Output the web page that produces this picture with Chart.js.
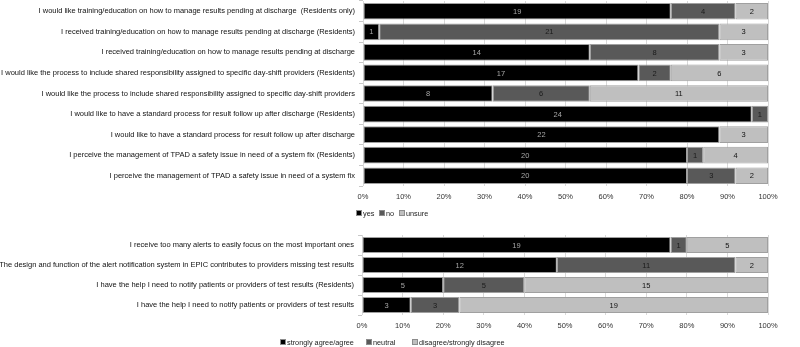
<!DOCTYPE html>
<html>
<head>
<meta charset="utf-8">
<script src="https://cdn.jsdelivr.net/npm/chart.js@4/dist/chart.umd.min.js"></script>
<style>
  html, body { margin: 0; padding: 0; background: #fff; }
  #wrap { position: relative; width: 800px; height: 347px; overflow: hidden; }
  #c1wrap { position: absolute; left: 0; top: 0; width: 800px; height: 225px; }
  #c2wrap { position: absolute; left: 0; top: 230px; width: 800px; height: 117px; }
</style>
</head>
<body>
<div id="wrap">
  <div id="c1wrap"><canvas id="c1"></canvas></div>
  <div id="c2wrap"><canvas id="c2"></canvas></div>
</div>
<script>
// ---------- DATA ----------
const topCategories = [
  "I would like training/education on how to manage results pending at discharge  (Residents only)",
  "I received training/education on how to manage results pending at discharge (Residents)",
  "I received training/education on how to manage results pending at discharge",
  "I would like the process to include shared responsibility assigned to specific day-shift providers (Residents)",
  "I would like the process to include shared responsibility assigned to specific day-shift providers",
  "I would like to have a standard process for result follow up after discharge (Residents)",
  "I would like to have a standard process for result follow up after discharge",
  "I perceive the management of TPAD a safety issue in need of a system fix (Residents)",
  "I perceive the management of TPAD a safety issue in need of a system fix"
];
const topSeriesNames = ["yes", "no", "unsure"];
const topYes    = [19, 1, 14, 17, 8, 24, 22, 20, 20];
const topNo     = [4, 21, 8, 2, 6, 1, 0, 1, 3];
const topUnsure = [2, 3, 3, 6, 11, 0, 3, 4, 2];

const bottomCategories = [
  "I receive too many alerts to easily focus on the most important ones",
  "The design and function of the alert notification system in EPIC contributes to providers missing test results",
  "I have the help I need to notify patients or providers of test results (Residents)",
  "I have the help I need to notify patients or providers of test results"
];
const bottomSeriesNames = ["strongly agree/agree", "neutral", "disagree/strongly disagree"];
const bottomAgree    = [19, 12, 5, 3];
const bottomNeutral  = [1, 11, 5, 3];
const bottomDisagree = [5, 2, 15, 19];

const xTickLabels = ["0%","10%","20%","30%","40%","50%","60%","70%","80%","90%","100%"];

// ---------- STYLE ----------
const FONT = "'Liberation Sans', Arial, sans-serif";
const fills = ["#000000", "#595959", "#bfbfbf"];
const labelColors = ["#a6a6a6", "#1a1a1a", "#111111"];

function toPercent(seriesList) {
  const n = seriesList[0].length;
  const totals = [];
  for (let i = 0; i < n; i++) {
    let t = 0;
    seriesList.forEach(s => t += s[i]);
    totals.push(t);
  }
  return seriesList.map(s => s.map((v, i) => totals[i] ? v / totals[i] * 100 : 0));
}

const segLabels = {
  id: 'segLabels',
  afterDatasetsDraw(chart) {
    const ctx = chart.ctx;
    ctx.save();
    ctx.font = "7.5px " + FONT;
    ctx.textAlign = 'center';
    ctx.textBaseline = 'middle';
    chart.data.datasets.forEach((ds, di) => {
      const meta = chart.getDatasetMeta(di);
      meta.data.forEach((bar, i) => {
        const v = ds.counts[i];
        if (!v) return;
        const p = bar.getProps(['x', 'y', 'base'], true);
        ctx.fillStyle = labelColors[di];
        ctx.fillText(String(v), (p.x + p.base) / 2, p.y + 0.5);
      });
    });
    ctx.restore();
  }
};

// legend drawn in canvas below the x axis, positions given per chart
const customLegend = {
  id: 'customLegend',
  afterDraw(chart, args, opts) {
    const ctx = chart.ctx;
    ctx.save();
    ctx.font = "7.3px " + FONT;
    ctx.textBaseline = 'middle';
    ctx.textAlign = 'left';
    chart.data.datasets.forEach((ds, k) => {
      const x = opts.lefts[k];
      const y = opts.y;
      ctx.fillStyle = fills[k];
      ctx.fillRect(x, y - 3, 6, 6);
      ctx.strokeStyle = '#8c8c8c';
      ctx.lineWidth = 1;
      ctx.strokeRect(x + 0.5, y - 2.5, 5, 5);
      ctx.fillStyle = '#222';
      ctx.fillText(ds.label, x + 7, y + 0.5);
    });
    ctx.restore();
  }
};

function makeChart(id, categories, names, series, yWidth, padTop, padBottom, legendOpts) {
  const pct = toPercent(series);
  const datasets = names.map((nm, k) => ({
    label: nm,
    data: pct[k],
    counts: series[k],
    backgroundColor: fills[k],
    borderColor: "#a0a0a0",
    borderWidth: 1,
    borderSkipped: false,
    barPercentage: 0.9,
    categoryPercentage: 0.9
  }));
  return new Chart(document.getElementById(id), {
    type: 'bar',
    data: { labels: categories, datasets },
    plugins: [segLabels, customLegend],
    options: {
      indexAxis: 'y',
      responsive: true,
      maintainAspectRatio: false,
      animation: false,
      layout: { padding: { top: padTop, right: 32, left: 0, bottom: padBottom } },
      plugins: { legend: { display: false }, tooltip: { enabled: false }, customLegend: legendOpts },
      scales: {
        x: {
          stacked: true,
          min: 0, max: 100,
          afterFit(s) { s.height = 18; s.paddingLeft = 0; s.paddingRight = 0; },
          afterBuildTicks(s) { s.ticks = xTickLabels.map((t, i) => ({ value: i * 10 })); },
          ticks: {
            callback: (v, i) => xTickLabels[i],
            font: { family: FONT, size: 7.5 },
            color: '#333',
            padding: 6,
            maxRotation: 0,
            autoSkip: false
          },
          grid: { color: '#d9d9d9', lineWidth: 1, drawTicks: false },
          border: { display: false }
        },
        y: {
          stacked: true,
          afterFit(s) { s.width = yWidth; s.paddingTop = 0; s.paddingBottom = 0; },
          ticks: {
            font: { family: FONT, size: 7.5 },
            color: '#111',
            padding: 4,
            autoSkip: false
          },
          grid: { display: true, offset: true, drawOnChartArea: false, drawTicks: true, tickLength: 4, color: '#c8c8c8' },
          border: { display: false }
        }
      }
    }
  });
}

makeChart('c1', topCategories, topSeriesNames, [topYes, topNo, topUnsure], 363, 1, 21,
  { y: 213, lefts: [356, 379, 399] });
makeChart('c2', bottomCategories, bottomSeriesNames, [bottomAgree, bottomNeutral, bottomDisagree], 362, 5, 14,
  { y: 112, lefts: [280, 366, 412] });
</script>
</body>
</html>
